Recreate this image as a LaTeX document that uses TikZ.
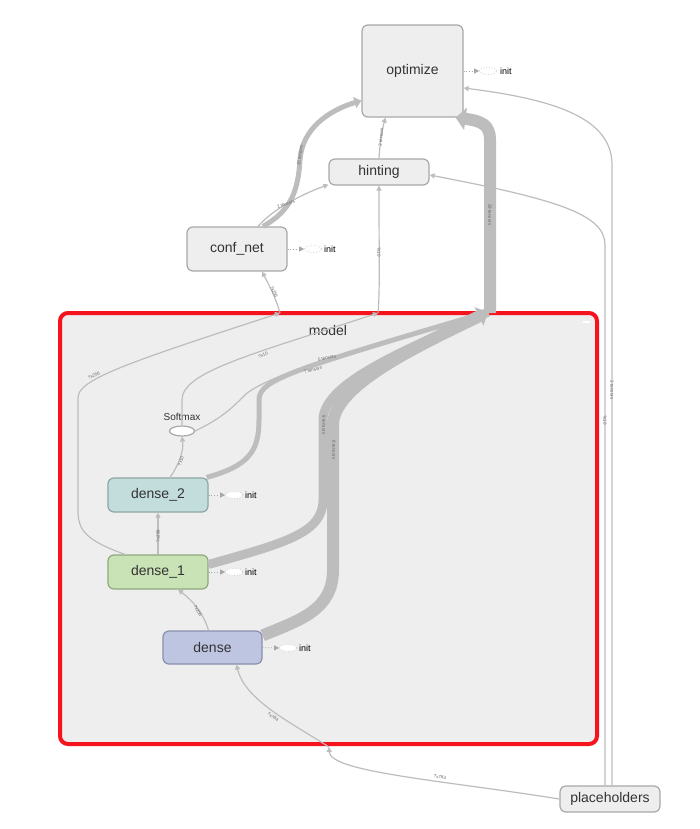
\documentclass[tikz,border=0pt]{standalone}
\usepackage{fontspec}
\setmainfont{Liberation Sans}
\usetikzlibrary{shapes.geometric,arrows.meta}
\definecolor{edgec}{HTML}{BDBDBD}
\definecolor{boxfill}{HTML}{EEEEEE}
\definecolor{boxline}{HTML}{A8A8A8}
\definecolor{txt}{HTML}{333333}
\definecolor{lblc}{HTML}{666666}
\definecolor{modelred}{HTML}{F5141E}
\definecolor{dtwofill}{HTML}{C3DDDD}
\definecolor{dtwoline}{HTML}{8DA5A5}
\definecolor{donefill}{HTML}{C9E3B7}
\definecolor{doneline}{HTML}{8EA97E}
\definecolor{dfill}{HTML}{BEC5E1}
\definecolor{dline}{HTML}{8990AD}
\tikzset{
  opbox/.style={draw=boxline, fill=boxfill, rounded corners=6pt, line width=1.2pt,
    text=txt, font=\fontsize{14}{16}\selectfont, inner sep=0pt,
    minimum width=100pt, minimum height=26pt},
  initell/.style={ellipse, draw=boxline!70, dotted, line width=0.7pt, fill=white,
    minimum width=17pt, minimum height=7pt, inner sep=0pt},
  inittxt/.style={font=\fontsize{9}{10}\selectfont, text=black, inner sep=0pt, anchor=west},
  initarrow/.style={draw=boxline, dotted, line width=0.8pt, -{Triangle[length=5pt,width=5pt]}},
  flowthin/.style={draw=edgec, line width=1.2pt, -{Triangle[length=5pt,width=5pt]}},
  lbl/.style={font=\fontsize{4.5}{5}\selectfont, text=lblc, inner sep=0.3pt},
}
\begin{document}
\begin{tikzpicture}[x=1pt,y=-1pt]
\useasboundingbox (0,0) rectangle (700,829);
\fill[white] (0,0) rectangle (700,829);

% model cluster
\node[draw=modelred, line width=4pt, fill=boxfill, rounded corners=8pt, inner sep=0pt,
  minimum width=537pt, minimum height=431pt] (model) at (328.5,528.5) {};
\node[font=\fontsize{14}{16}\selectfont, text=txt] (modeltitle) at (328,330) {model};
\draw[white, line width=1.2pt] (583,322) -- (590,322);

% nodes
\node[opbox, minimum width=101pt, minimum height=92pt] (optimize) at (412.5,71) {optimize};
\node[opbox] (hinting) at (379,172) {hinting};
\node[opbox, minimum height=44pt] (confnet) at (237,249) {conf\_net};
\node[opbox, minimum height=34pt, fill=dtwofill, draw=dtwoline] (dense2) at (158,495) {dense\_2};
\node[opbox, minimum height=34pt, fill=donefill, draw=doneline] (dense1) at (158,572) {dense\_1};
\node[opbox, minimum width=99pt, minimum height=33pt, fill=dfill, draw=dline] (dense) at (212.5,647.5) {dense};
\node[opbox, minimum width=100pt, minimum height=26pt] (placeholders) at (610,799) {placeholders};
\node[ellipse, draw=boxline, fill=white, line width=1.2pt, minimum width=25pt, minimum height=10pt, inner sep=0pt] (softmax) at (182,431) {};
\node[font=\fontsize{10}{12}\selectfont, text=txt] (softmaxlbl) at (182,417) {Softmax};

% init nodes
\node[initell] (initopt) at (488,71) {};
\node[inittxt] (initopttxt) at (500,71) {init};
\draw[initarrow] (optimize.east) -- (initopt.west);
\node[initell] (initconf) at (313,249) {};
\node[inittxt] (initconftxt) at (324,249) {init};
\draw[initarrow] (confnet.east) -- (initconf.west);
\node[initell] (initd2) at (234,495) {};
\node[inittxt] (initd2txt) at (245,495) {init};
\draw[initarrow] (dense2.east) -- (initd2.west);
\node[initell] (initd1) at (234,572) {};
\node[inittxt] (initd1txt) at (245,572) {init};
\draw[initarrow] (dense1.east) -- (initd1.west);
\node[initell] (initd) at (288,648) {};
\node[inittxt] (initdtxt) at (299,648) {init};
\draw[initarrow] (dense.east) -- (initd.west);

% junction coordinates on cluster border
\coordinate (mbot) at (329,747);
\coordinate (mtopA) at (280,313);
\coordinate (mtopB) at (378,313);
\coordinate (mtopC) at (488,312);
\coordinate (mtopD) at (490,313);

% placeholders -> model (bottom)
\draw[flowthin] (placeholders.west) .. controls (440,780) and (330,772) .. (mbot);
% model -> dense
\draw[flowthin] (mbot) .. controls (290,722) and (245,700) .. ([xshift=24pt]dense.south);
% dense -> dense_1
\draw[flowthin] ([xshift=-4pt]dense.north) .. controls (204,614) and (192,600) .. ([xshift=20pt]dense1.south);
% dense_1 -> dense_2
\draw[flowthin] (dense1.north) -- (dense2.south);
% dense_2 -> softmax
\draw[flowthin] ([xshift=12pt]dense2.north) .. controls (178,466) and (184,452) .. (softmax.south);
% softmax -> hinting (via cluster top)
\draw[flowthin] (softmax.north) -- (182,400) .. controls (182,372) and (250,355) .. (mtopB);
\draw[flowthin] (mtopB) .. controls (380,290) and (379,260) .. (hinting.south);
% dense_1 -> conf_net (via cluster top)
\draw[flowthin] ([xshift=-33pt]dense1.north) .. controls (85,540) and (78,530) .. (78,510) -- (78,398)
  .. controls (78,380) and (120,365) .. (mtopA);
\draw[flowthin] (mtopA) .. controls (276,298) and (268,283) .. ([xshift=25pt]confnet.south);
% softmax -> optimize (5 tensors)
\draw[draw=edgec, line width=1.2pt] (softmax.east) .. controls (222,418) and (232,408) .. (246,394)
  .. controls (275,370) and (400,338) .. (mtopC);
% dense_2 thick (7 tensors)
\draw[draw=edgec, line width=5pt] ([xshift=-2pt]dense2.north east) .. controls (248,466) and (259,452) .. (259,420)
  -- (259,400) .. controls (259,380) and (290,370) .. (mtopC);
% dense_1 thick (9 tensors)
\draw[draw=edgec, line width=9pt] ([yshift=-10pt]dense1.north east) .. controls (285,543) and (323,533) .. (323,500)
  -- (323,420) .. controls (323,380) and (420,345) .. (mtopC);
% dense thick (8 tensors)
\draw[draw=edgec, line width=12pt, -{Triangle[length=10pt,width=20pt]}] ([yshift=-5pt]dense.north east) .. controls (300,620) and (333,610) .. (333,570)
  -- (333,425) .. controls (333,385) and (420,345) .. (mtopC);
% model -> optimize (29 tensors)
\draw[draw=edgec, line width=12pt, -{Triangle[length=10pt,width=22pt]}] (mtopD) -- (490,140)
  .. controls (490,125) and (482,121) .. ([xshift=-8pt]optimize.south east);
% conf_net -> hinting
\draw[flowthin] ([xshift=21pt]confnet.north) .. controls (272,210) and (300,195) .. ([yshift=1pt]hinting.south west);
% conf_net -> optimize (20 tensors)
\draw[draw=edgec, line width=5pt, -{Triangle[length=7pt,width=11pt]}] ([xshift=26pt]confnet.north) .. controls (292,210) and (298,190) .. (300,160)
  .. controls (302,128) and (330,110) .. ([yshift=17pt]optimize.south west);
% hinting -> optimize
\draw[flowthin] (hinting.north) .. controls (380,142) and (382,130) .. ([xshift=-27pt]optimize.south);
% placeholders -> hinting
\draw[flowthin] ([xshift=-5pt]placeholders.north) -- (605,245) .. controls (605,215) and (560,200) .. ([yshift=-3pt]hinting.east);
% placeholders -> optimize
\draw[flowthin] ([xshift=2pt]placeholders.north) -- (612,165) .. controls (612,120) and (560,100) .. ([yshift=-17pt]optimize.east);

% edge labels
\node[lbl, rotate=-8] (l1) at (440,777) {?x784};
\node[lbl, rotate=-35] (l2) at (273,717) {?x784};
\node[lbl, rotate=-60] (l3) at (198,611) {?x256};
\node[lbl, rotate=90] (l4) at (158,536) {?x256};
\node[lbl, rotate=72] (l5) at (181,461) {?x10};
\node[lbl, rotate=22] (l6) at (263,355) {?x10};
\node[lbl, rotate=25] (l7) at (94,376) {?x256};
\node[lbl, rotate=12] (l8) at (327,358) {5 tensors};
\node[lbl, rotate=15] (l9) at (313,370) {7 tensors};
\node[lbl, rotate=-90] (l10) at (324,425) {9 tensors};
\node[lbl, rotate=-90] (l11) at (334,450) {8 tensors};
\node[lbl, rotate=-90] (l12) at (490,215) {29 tensors};
\node[lbl, rotate=-65] (l13) at (274,292) {?x256};
\node[lbl, rotate=-90] (l14) at (379,252) {?x10};
\node[lbl, rotate=20] (l15) at (286,204) {2 tensors};
\node[lbl, rotate=82] (l16) at (300,155) {20 tensors};
\node[lbl, rotate=85] (l17) at (381,137) {2 tensors};
\node[lbl, rotate=-90] (l18) at (605,420) {?x10};
\node[lbl, rotate=-90] (l19) at (612,390) {2 tensors};
\end{tikzpicture}
\end{document}
